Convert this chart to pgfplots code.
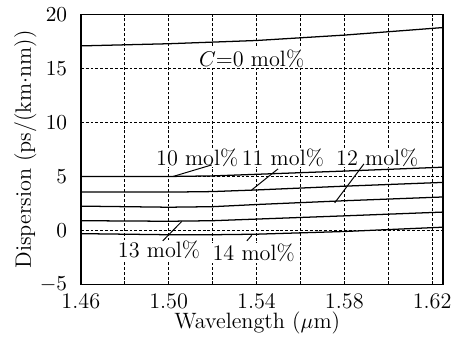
\documentclass[border=0pt]{standalone}
\usepackage{pgfplots}
\pgfplotsset{compat=1.18}
\begin{document}
\begin{tikzpicture}[font=\fontsize{11.4}{13.5}\selectfont]
\begin{axis}[
  scale only axis,
  width=186pt, height=138.5pt,
  xmin=1.46, xmax=1.625,
  ymin=-5, ymax=20,
  xtick={1.46,1.48,1.50,1.52,1.54,1.56,1.58,1.60,1.62},
  xticklabels={1.46,,1.50,,1.54,,1.58,,1.62},
  ytick={-5,0,5,10,15,20},
  major tick length=0pt,
  grid=major,
  major grid style={black, line width=0.5pt, dash pattern=on 1.5pt off 1pt},
  axis line style={black, line width=0.7pt},
  xticklabel style={yshift=-1.2pt},
  yticklabel style={xshift=-3.5pt},
  xlabel={Wavelength ($\mu$m)},
  ylabel={Dispersion (ps/(km$\cdot$nm))},
  every axis x label/.style={at={(axis description cs:0.487,-0.144)},anchor=center},
  every axis y label/.style={at={(axis description cs:-0.153,0.5)},rotate=90,anchor=center},
  clip=false,
]
% C = 0 mol%
\addplot[black, line width=0.65pt] coordinates {(1.46,17.1) (1.50,17.3) (1.54,17.6) (1.58,18.1) (1.625,18.8)};
% 10 mol%
\addplot[black, line width=0.65pt] coordinates {(1.46,5.0) (1.50,5.0) (1.52,5.05) (1.54,5.2) (1.58,5.5) (1.625,5.86)};
% 11 mol%
\addplot[black, line width=0.65pt] coordinates {(1.46,3.55) (1.50,3.55) (1.52,3.6) (1.54,3.75) (1.58,4.1) (1.625,4.45)};
% 12 mol%
\addplot[black, line width=0.65pt] coordinates {(1.46,2.25) (1.50,2.15) (1.52,2.2) (1.54,2.4) (1.58,2.75) (1.625,3.1)};
% 13 mol%
\addplot[black, line width=0.65pt] coordinates {(1.46,0.9) (1.50,0.85) (1.52,0.9) (1.54,1.05) (1.58,1.35) (1.625,1.7)};
% 14 mol%
\addplot[black, line width=0.65pt] coordinates {(1.46,-0.3) (1.50,-0.4) (1.52,-0.4) (1.54,-0.35) (1.58,-0.1) (1.625,0.3)};

\node[fill=white, inner sep=0.5pt] at (axis cs:1.5378,15.94) {$C$=0 mol\%};
\node[fill=white, inner sep=0.5pt] at (axis cs:1.513,6.76) {10 mol\%};
\node[fill=white, inner sep=0.5pt] at (axis cs:1.552,6.76) {11 mol\%};
\node[fill=white, inner sep=0.5pt] at (axis cs:1.595,6.76) {12 mol\%};
\node[fill=white, inner sep=0.5pt] at (axis cs:1.4956,-1.8) {13 mol\%};
\node[fill=white, inner sep=0.5pt] at (axis cs:1.5387,-2.1) {14 mol\%};
\draw[black, line width=0.5pt] (axis cs:1.502,5.0) -- (axis cs:1.5196,6.07);
\draw[black, line width=0.5pt] (axis cs:1.5378,3.75) -- (axis cs:1.5498,5.7);
\draw[black, line width=0.5pt] (axis cs:1.5756,2.55) -- (axis cs:1.5889,6.16);
\draw[black, line width=0.5pt] (axis cs:1.4973,-0.97) -- (axis cs:1.506,0.84);
\draw[black, line width=0.5pt] (axis cs:1.5356,-0.97) -- (axis cs:1.5378,-0.46);
\end{axis}
\path (current axis.south west) ++(-41.5pt,-27.5pt) coordinate (bbA);
\path (current axis.north east) ++(1.5pt,7.5pt) coordinate (bbB);
\path (bbA) rectangle (bbB);
\end{tikzpicture}
\end{document}
